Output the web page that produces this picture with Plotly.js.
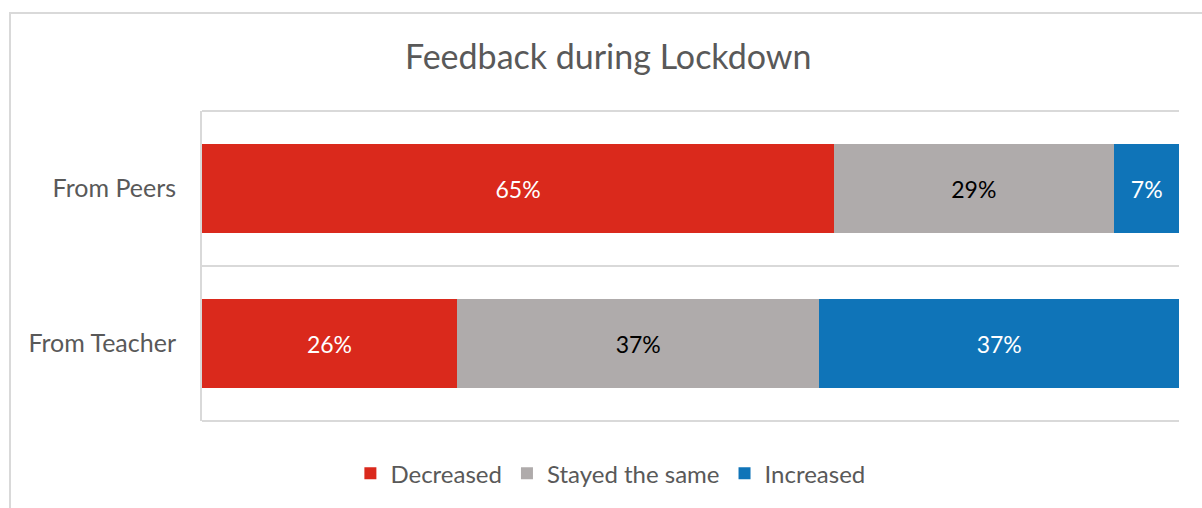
<!DOCTYPE html>
<html>
<head>
<meta charset="utf-8">
<script src="https://cdn.plot.ly/plotly-3.0.1.min.js"></script>
<style>
html,body{margin:0;padding:0;background:#fff;}
#chart{width:1202px;height:508px;}
</style>
</head>
<body>
<div id="chart"></div>
<script>
// Data (shares of 100%) and displayed labels
const categories = ["From Teacher", "From Peers"];
const seriesNames = ["Decreased", "Stayed the same", "Increased"];
const decreased = [26.1, 64.7];
const stayedSame = [37.1, 28.6];
const increased = [36.8, 6.8];
const decreasedLabels = ["26%", "65%"];
const stayedSameLabels = ["37%", "29%"];
const increasedLabels = ["37%", "7%"];

const colors = ["#DA291C", "#AFABAB", "#0F74B8"];
const textColors = ["#FFFFFF", "#000000", "#FFFFFF"];
const FONT = "Lato, 'Open Sans', sans-serif";

const values = [decreased, stayedSame, increased];
const labels = [decreasedLabels, stayedSameLabels, increasedLabels];

const traces = seriesNames.map((name, i) => ({
  type: "bar",
  orientation: "h",
  name: name,
  y: categories,
  x: values[i],
  text: labels[i],
  textposition: "inside",
  insidetextanchor: "middle",
  textangle: 0,
  textfont: {family: FONT, size: 23, color: textColors[i]},
  marker: {color: colors[i], line: {width: 0}},
  hoverinfo: "name+x"
}));

const gridLine = (yp) => ({
  type: "line", xref: "paper", yref: "paper",
  x0: 0, x1: 1, y0: yp, y1: yp,
  line: {color: "#D9D9D9", width: 2},
  layer: "below"
});

const layout = {
  width: 1202,
  height: 508,
  margin: {l: 202, r: 23, t: 111, b: 87},
  paper_bgcolor: "#FFFFFF",
  plot_bgcolor: "#FFFFFF",
  barmode: "stack",
  bargap: 0.425,
  showlegend: true,
  title: {
    text: "Feedback during Lockdown",
    font: {family: FONT, size: 34, color: "#595959"},
    x: 0.506, xanchor: "center",
    y: 1 - 57/508, yanchor: "middle"
  },
  legend: {
    orientation: "h",
    x: 0.418, xanchor: "center",
    y: -0.17, yanchor: "middle",
    xref: "paper",
    font: {family: FONT, size: 24, color: "#595959"},
    itemwidth: 30,
    traceorder: "normal"
  },
  xaxis: {
    range: [0, 100],
    showgrid: false,
    zeroline: false,
    showticklabels: false,
    showline: false,
    fixedrange: true
  },
  yaxis: {
    type: "category",
    categoryorder: "array",
    categoryarray: categories,
    range: [-0.5, 1.5],
    tickson: "boundaries",
    showgrid: true,
    gridcolor: "#D9D9D9",
    gridwidth: 2,
    showline: true,
    linecolor: "#D9D9D9",
    linewidth: 2,
    ticks: "",
    ticklabelstandoff: 19,
    tickfont: {family: FONT, size: 25, color: "#595959"},
    zeroline: false,
    fixedrange: true
  },
  shapes: [
    gridLine(0),
    gridLine(1),
    {
      type: "rect",
      xref: "paper", yref: "paper",
      x0: (10 - 202) / 977, x1: (1215 - 202) / 977,
      y0: (421 - 520) / 310, y1: (421 - 13) / 310,
      line: {color: "#D9D9D9", width: 2},
      fillcolor: "rgba(0,0,0,0)",
      layer: "below"
    }
  ]
};

Plotly.newPlot("chart", traces, layout, {displayModeBar: false, staticPlot: true});
</script>
</body>
</html>
